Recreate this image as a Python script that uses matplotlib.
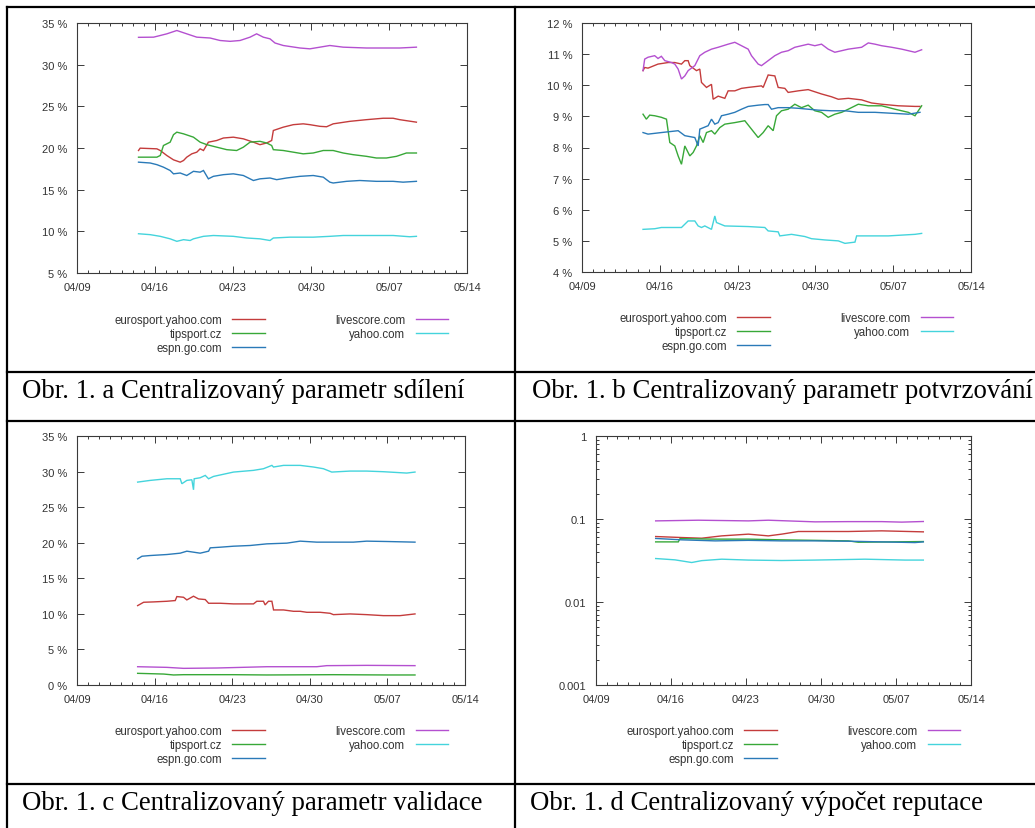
import matplotlib
matplotlib.use("Agg")
import matplotlib.pyplot as plt
from matplotlib.lines import Line2D
from matplotlib.ticker import FixedLocator, LogLocator, NullFormatter

W, H, DPI = 1035, 829, 100

SITES = ["eurosport.yahoo.com", "tipsport.cz", "espn.go.com", "livescore.com", "yahoo.com"]
COLORS = ["#c43c3c", "#38a838", "#2a7ab8", "#b450d0", "#44d4dc"]

# x axis: day of April (May days continue past 30)
DATE_TICKS = [9, 16, 23, 30, 37, 44]
DATE_LABELS = ["04/09", "04/16", "04/23", "04/30", "05/07", "05/14"]
DAY_MINOR = list(range(9, 45))

PCT_A_TICKS = [5, 10, 15, 20, 25, 30, 35]
PCT_A_LABELS = ["5 %", "10 %", "15 %", "20 %", "25 %", "30 %", "35 %"]
PCT_B_TICKS = [4, 5, 6, 7, 8, 9, 10, 11, 12]
PCT_B_LABELS = ["4 %", "5 %", "6 %", "7 %", "8 %", "9 %", "10 %", "11 %", "12 %"]
PCT_C_TICKS = [0, 5, 10, 15, 20, 25, 30, 35]
PCT_C_LABELS = ["0 %", "5 %", "10 %", "15 %", "20 %", "25 %", "30 %", "35 %"]
LOG_D_TICKS = [0.001, 0.01, 0.1, 1]
LOG_D_LABELS = ["0.001", "0.01", "0.1", "1"]

CAPTIONS = [
    "Obr. 1. a Centralizovaný parametr sdílení",
    "Obr. 1. b Centralizovaný parametr potvrzování",
    "Obr. 1. c Centralizovaný parametr validace",
    "Obr. 1. d Centralizovaný výpočet reputace",
]

# ---- a: sharing parameter (%) ----
A_EURO_T = [14.52, 14.67, 16.17, 16.47, 17.06, 17.66, 18.26, 18.56, 18.85, 19.30, 19.75, 20.05, 20.35, 20.79, 21.54, 22.14, 23.03, 23.93, 24.83, 25.42, 26.02, 26.47, 26.62, 27.51, 28.41, 29.30, 29.90, 30.80, 31.40, 31.99, 33.49, 34.98, 36.47, 37.37, 37.96, 39.46]
A_EURO_V = [19.70, 19.98, 19.9, 19.7, 19.1, 18.58, 18.3, 18.5, 18.9, 19.3, 19.5, 19.9, 19.7, 20.7, 20.9, 21.2, 21.3, 21.1, 20.7, 20.4, 20.6, 20.9, 22.1, 22.5, 22.8, 22.9, 22.8, 22.6, 22.55, 22.9, 23.2, 23.4, 23.57, 23.57, 23.4, 23.1]
A_TIPS_T = [14.52, 16.17, 16.47, 16.76, 17.36, 17.66, 17.96, 18.56, 19.45, 20.05, 20.65, 21.54, 22.44, 23.33, 23.93, 24.53, 25.42, 26.02, 26.47, 26.62, 27.51, 28.41, 29.30, 30.20, 31.10, 31.99, 32.89, 33.78, 34.98, 35.87, 36.77, 37.67, 38.56, 39.46]
A_TIPS_V = [18.9, 18.9, 19.1, 20.3, 20.7, 21.6, 21.9, 21.7, 21.3, 20.7, 20.4, 20.1, 19.8, 19.7, 20.1, 20.7, 20.8, 20.6, 20.3, 19.8, 19.7, 19.5, 19.3, 19.4, 19.7, 19.7, 19.4, 19.2, 19.0, 18.8, 18.8, 19.0, 19.4, 19.4]
A_ESPN_T = [14.52, 15.57, 16.17, 16.76, 17.36, 17.66, 18.26, 18.85, 19.45, 20.05, 20.35, 20.79, 21.24, 22.14, 23.03, 23.93, 24.83, 25.42, 26.32, 26.92, 27.81, 29.01, 30.20, 31.10, 31.69, 31.99, 33.19, 34.38, 35.87, 37.37, 38.26, 39.46]
A_ESPN_V = [18.3, 18.2, 18.0, 17.7, 17.3, 16.9, 17.0, 16.7, 17.2, 17.1, 17.3, 16.3, 16.6, 16.8, 16.9, 16.7, 16.1, 16.3, 16.4, 16.2, 16.4, 16.6, 16.7, 16.5, 15.9, 15.8, 16.0, 16.1, 16.0, 16.0, 15.9, 16.0]
A_LIVE_T = [14.52, 15.87, 16.47, 17.06, 17.96, 18.85, 19.75, 20.94, 21.84, 22.74, 23.63, 24.53, 25.12, 25.72, 26.32, 26.77, 27.51, 29.01, 29.90, 30.80, 31.69, 32.89, 34.98, 37.96, 39.46]
A_LIVE_V = [33.28, 33.3, 33.5, 33.7, 34.1, 33.7, 33.3, 33.2, 32.9, 32.8, 32.9, 33.3, 33.7, 33.3, 33.1, 32.6, 32.3, 32.0, 31.9, 32.1, 32.3, 32.1, 32.0, 32.0, 32.1]
A_YHOO_T = [14.52, 15.57, 16.47, 17.36, 17.96, 18.56, 19.15, 19.45, 20.35, 21.24, 23.03, 24.23, 25.42, 26.32, 26.62, 28.11, 30.20, 31.69, 32.89, 34.98, 37.37, 38.86, 39.46]
A_YHOO_V = [9.71, 9.6, 9.4, 9.1, 8.8, 9.0, 8.9, 9.1, 9.4, 9.5, 9.4, 9.2, 9.1, 8.9, 9.2, 9.3, 9.3, 9.4, 9.5, 9.5, 9.5, 9.35, 9.4]

# ---- b: confirmation parameter (%) ----
B_EURO_T = [14.49, 14.64, 14.94, 15.84, 16.75, 17.35, 17.95, 18.25, 18.55, 18.70, 19.30, 19.60, 19.75, 20.20, 20.65, 20.80, 21.25, 21.85, 22.15, 22.75, 23.35, 23.95, 25.15, 25.30, 25.75, 26.35, 26.65, 27.25, 27.55, 28.45, 29.35, 30.55, 31.45, 32.06, 32.96, 34.16, 35.06, 35.96, 37.46, 38.96, 39.41]
B_EURO_V = [10.47, 10.57, 10.55, 10.68, 10.73, 10.73, 10.68, 10.79, 10.79, 10.63, 10.47, 10.52, 10.09, 9.93, 10.03, 9.55, 9.65, 9.58, 9.82, 9.82, 9.9, 9.93, 9.98, 9.93, 10.33, 10.3, 9.93, 9.9, 9.77, 9.82, 9.86, 9.72, 9.63, 9.55, 9.58, 9.53, 9.43, 9.39, 9.34, 9.32, 9.32]
B_TIPS_T = [14.49, 14.79, 15.09, 15.54, 16.14, 16.60, 16.90, 17.35, 17.65, 17.95, 18.25, 18.70, 19.00, 19.30, 19.60, 19.90, 20.20, 20.65, 20.95, 21.40, 21.85, 22.75, 23.65, 24.25, 24.85, 25.30, 25.75, 26.20, 26.50, 26.95, 27.55, 28.15, 28.75, 29.35, 29.95, 30.55, 31.15, 31.75, 32.36, 32.96, 33.86, 34.76, 35.96, 37.16, 38.36, 38.96, 39.56]
B_TIPS_V = [9.07, 8.91, 9.04, 9.02, 8.97, 8.91, 8.16, 8.05, 7.73, 7.46, 8.05, 7.73, 7.84, 8.05, 8.38, 8.16, 8.48, 8.54, 8.43, 8.64, 8.75, 8.8, 8.86, 8.59, 8.32, 8.48, 8.70, 8.54, 9.02, 9.18, 9.23, 9.39, 9.28, 9.36, 9.18, 9.13, 8.97, 9.07, 9.13, 9.23, 9.39, 9.34, 9.34, 9.23, 9.13, 9.02, 9.34]
B_ESPN_T = [14.49, 14.94, 16.14, 17.65, 18.25, 19.15, 19.45, 19.60, 20.35, 20.65, 20.95, 21.25, 21.55, 22.15, 22.75, 23.35, 23.95, 24.85, 25.45, 25.75, 26.05, 26.65, 27.55, 28.45, 29.35, 30.25, 31.45, 32.66, 33.86, 35.36, 36.86, 38.36, 39.41]
B_ESPN_V = [8.48, 8.43, 8.48, 8.54, 8.38, 8.32, 8.05, 8.59, 8.70, 8.91, 8.75, 8.8, 9.02, 9.07, 9.13, 9.23, 9.32, 9.36, 9.38, 9.38, 9.23, 9.28, 9.28, 9.26, 9.23, 9.2, 9.18, 9.18, 9.13, 9.13, 9.1, 9.07, 9.13]
B_LIVE_T = [14.49, 14.64, 14.94, 15.54, 15.84, 16.14, 16.45, 17.05, 17.35, 17.65, 17.95, 18.25, 18.55, 19.15, 19.60, 20.05, 20.65, 21.25, 22.15, 22.75, 23.35, 23.95, 24.25, 24.85, 25.15, 25.75, 26.35, 26.95, 27.55, 28.15, 28.75, 29.35, 29.95, 30.55, 31.15, 31.75, 32.36, 32.96, 34.16, 34.76, 35.36, 35.96, 36.86, 37.76, 38.36, 38.96, 39.56]
B_LIVE_V = [10.47, 10.84, 10.9, 10.95, 10.86, 10.93, 10.79, 10.73, 10.68, 10.52, 10.2, 10.3, 10.47, 10.63, 10.95, 11.06, 11.16, 11.22, 11.32, 11.38, 11.27, 11.16, 10.95, 10.68, 10.63, 10.79, 10.95, 11.06, 11.11, 11.22, 11.27, 11.32, 11.27, 11.32, 11.16, 11.06, 11.11, 11.16, 11.22, 11.36, 11.32, 11.27, 11.22, 11.16, 11.11, 11.06, 11.14]
B_YHOO_T = [14.49, 15.54, 16.14, 17.95, 18.55, 19.15, 19.45, 19.75, 20.05, 20.65, 20.95, 21.10, 21.85, 23.95, 25.45, 25.75, 26.65, 26.80, 27.85, 29.05, 29.65, 30.85, 32.06, 32.66, 33.56, 33.71, 34.76, 36.56, 38.96, 39.56]
B_YHOO_V = [5.37, 5.39, 5.43, 5.43, 5.64, 5.64, 5.48, 5.43, 5.48, 5.37, 5.80, 5.59, 5.48, 5.46, 5.43, 5.32, 5.29, 5.16, 5.21, 5.14, 5.07, 5.03, 5.0, 4.92, 4.96, 5.16, 5.16, 5.16, 5.21, 5.24]

# ---- c: validation parameter (%) ----
C_EURO_T = [14.47, 15.01, 15.91, 17.11, 17.86, 18.01, 18.61, 18.91, 19.51, 19.96, 20.57, 20.87, 21.92, 23.12, 24.92, 25.22, 25.82, 25.97, 26.27, 26.58, 26.73, 27.63, 28.53, 29.13, 29.73, 30.93, 31.83, 32.13, 33.63, 35.13, 36.64, 38.14, 39.49]
C_EURO_V = [11.16, 11.63, 11.68, 11.77, 11.87, 12.43, 12.33, 11.96, 12.48, 12.1, 12.01, 11.49, 11.49, 11.4, 11.4, 11.77, 11.77, 11.26, 11.77, 11.77, 10.55, 10.55, 10.36, 10.36, 10.22, 10.22, 10.08, 9.89, 9.99, 9.89, 9.75, 9.75, 9.99]
C_TIPS_T = [14.47, 16.81, 17.71, 18.61, 23.12, 26.13, 32.13, 36.94, 39.49]
C_TIPS_V = [1.64, 1.54, 1.41, 1.45, 1.45, 1.41, 1.45, 1.41, 1.41]
C_ESPN_T = [14.47, 14.86, 15.61, 17.11, 18.31, 18.91, 20.11, 20.87, 21.02, 21.92, 23.12, 24.62, 26.13, 27.93, 28.53, 29.13, 30.63, 32.13, 33.93, 35.13, 36.94, 39.49]
C_ESPN_V = [17.73, 18.1, 18.2, 18.34, 18.53, 18.81, 18.53, 18.81, 19.28, 19.37, 19.51, 19.61, 19.84, 19.94, 20.08, 20.22, 20.08, 20.08, 20.08, 20.22, 20.17, 20.08]
C_LIVE_T = [14.47, 17.11, 18.61, 21.62, 26.13, 30.63, 31.53, 35.13, 39.49]
C_LIVE_V = [2.57, 2.48, 2.34, 2.39, 2.57, 2.57, 2.72, 2.76, 2.72]
C_YHOO_T = [14.47, 15.61, 17.11, 18.31, 18.46, 18.91, 19.36, 19.51, 19.57, 20.11, 20.57, 20.87, 21.32, 23.12, 24.92, 25.82, 26.58, 26.73, 27.63, 29.13, 30.33, 31.23, 31.98, 33.63, 35.13, 36.64, 38.74, 39.49]
C_YHOO_V = [28.52, 28.76, 28.99, 28.99, 28.29, 28.76, 28.85, 27.44, 28.99, 29.13, 29.46, 28.99, 29.32, 29.93, 30.17, 30.4, 30.87, 30.64, 30.87, 30.87, 30.64, 30.4, 29.93, 30.07, 30.07, 29.98, 29.79, 29.93]

# ---- d: reputation (log scale) ----
D_EURO_T = [14.57, 17.00, 18.86, 20.73, 23.22, 25.08, 26.33, 27.88, 29.44, 32.55, 35.66, 39.55]
D_EURO_V = [0.0615, 0.0598, 0.0587, 0.0626, 0.0657, 0.0626, 0.0657, 0.0707, 0.0707, 0.0707, 0.072, 0.0700]
D_TIPS_T = [14.57, 16.68, 16.84, 20.11, 23.22, 26.33, 32.55, 33.48, 39.55]
D_TIPS_V = [0.053, 0.053, 0.058, 0.0572, 0.0572, 0.0561, 0.0545, 0.0525, 0.0535]
D_ESPN_T = [14.57, 17.00, 20.11, 23.22, 26.33, 29.44, 32.55, 38.77, 39.55]
D_ESPN_V = [0.0583, 0.0561, 0.0545, 0.0553, 0.0545, 0.0545, 0.054, 0.052, 0.053]
D_LIVE_T = [14.57, 18.55, 23.22, 25.08, 29.44, 32.55, 35.66, 37.53, 39.55]
D_LIVE_V = [0.0949, 0.0967, 0.0949, 0.0967, 0.0924, 0.093, 0.093, 0.0917, 0.0933]
D_YHOO_T = [14.57, 16.37, 17.93, 18.86, 20.73, 23.22, 26.33, 29.44, 34.11, 37.84, 39.55]
D_YHOO_V = [0.0334, 0.0322, 0.0299, 0.0315, 0.0328, 0.032, 0.0316, 0.032, 0.0328, 0.032, 0.032]

AXIS_GREY = "#3a3a3a"
TEXT_GREY = "#333333"
TICK_FONT = "Liberation Sans"
CAPTION_FONT = "Liberation Serif"

fig = plt.figure(figsize=(W / DPI, H / DPI), dpi=DPI)
fig.patch.set_facecolor("white")


def fx(x):
    return x / W


def fy(y):
    return 1 - y / H


def panel(box, series, yticks, ylabels, ylim, legend_center, log=False):
    left, top, right, bottom = box
    ax = fig.add_axes([fx(left), fy(bottom), fx(right - left), (bottom - top) / H])
    for (t, v), name, color in zip(series, SITES, COLORS):
        ax.plot(t, v, color=color, lw=1.0, label=name, solid_joinstyle="miter")
    ax.set_xlim(DATE_TICKS[0], DATE_TICKS[-1])
    if log:
        ax.set_yscale("log")
        ax.yaxis.set_minor_locator(LogLocator(base=10, subs=range(2, 10)))
        ax.yaxis.set_minor_formatter(NullFormatter())
    ax.set_ylim(*ylim)
    ax.set_yticks(yticks)
    ax.set_yticklabels(ylabels)
    ax.set_xticks(DATE_TICKS)
    ax.set_xticklabels(DATE_LABELS)
    ax.xaxis.set_minor_locator(FixedLocator(DAY_MINOR))
    for s in ax.spines.values():
        s.set_color(AXIS_GREY)
        s.set_linewidth(0.8)
    ax.tick_params(which="both", direction="in", top=True, right=True,
                   color=AXIS_GREY, width=0.7)
    ax.tick_params(which="major", length=5)
    ax.tick_params(which="minor", length=2.5)
    ax.tick_params(axis="x", which="major", pad=6.5)
    ax.tick_params(axis="y", which="major", pad=7)
    for lab in ax.get_xticklabels() + ax.get_yticklabels():
        lab.set_fontfamily(TICK_FONT)
        lab.set_fontsize(8)
        lab.set_color(TEXT_GREY)
    cx, cy = legend_center
    leg = ax.legend(loc="center", bbox_to_anchor=(fx(cx), fy(cy)),
                    bbox_transform=fig.transFigure, ncol=2, frameon=False,
                    markerfirst=False, handlelength=2.8, handletextpad=0.9,
                    columnspacing=6.1, labelspacing=0.14, borderpad=0,
                    prop={"family": TICK_FONT, "size": 8.3})
    for txt in leg.get_texts():
        txt.set_color(TEXT_GREY)
    return ax


panel((77, 24, 467, 274),
      [(A_EURO_T, A_EURO_V), (A_TIPS_T, A_TIPS_V), (A_ESPN_T, A_ESPN_V),
       (A_LIVE_T, A_LIVE_V), (A_YHOO_T, A_YHOO_V)],
      PCT_A_TICKS, PCT_A_LABELS, (5, 35), (281, 335))
panel((582, 24, 971, 273),
      [(B_EURO_T, B_EURO_V), (B_TIPS_T, B_TIPS_V), (B_ESPN_T, B_ESPN_V),
       (B_LIVE_T, B_LIVE_V), (B_YHOO_T, B_YHOO_V)],
      PCT_B_TICKS, PCT_B_LABELS, (4, 12), (786, 333))
panel((77, 437, 465, 686),
      [(C_EURO_T, C_EURO_V), (C_TIPS_T, C_TIPS_V), (C_ESPN_T, C_ESPN_V),
       (C_LIVE_T, C_LIVE_V), (C_YHOO_T, C_YHOO_V)],
      PCT_C_TICKS, PCT_C_LABELS, (0, 35), (281, 746))
panel((596, 437, 971, 686),
      [(D_EURO_T, D_EURO_V), (D_TIPS_T, D_TIPS_V), (D_ESPN_T, D_ESPN_V),
       (D_LIVE_T, D_LIVE_V), (D_YHOO_T, D_YHOO_V)],
      LOG_D_TICKS, LOG_D_LABELS, (0.001, 1), (793, 746), log=True)

# table grid around the figures and captions
grid_kw = dict(color="black", lw=1.6, transform=fig.transFigure, solid_capstyle="projecting")
for y in (8, 373, 422, 785):
    fig.add_artist(Line2D([fx(7), 1.0], [fy(y), fy(y)], **grid_kw))
for x in (7, 515):
    fig.add_artist(Line2D([fx(x), fx(x)], [fy(8), 0.0], **grid_kw))

caption_pos = [(22, 398), (532, 398), (22, 810), (530, 810)]
for text, (x, y) in zip(CAPTIONS, caption_pos):
    fig.text(fx(x), fy(y), text, fontfamily=CAPTION_FONT, fontsize=19.3,
             ha="left", va="baseline", color="black")

fig.savefig("out.png", dpi=DPI)
